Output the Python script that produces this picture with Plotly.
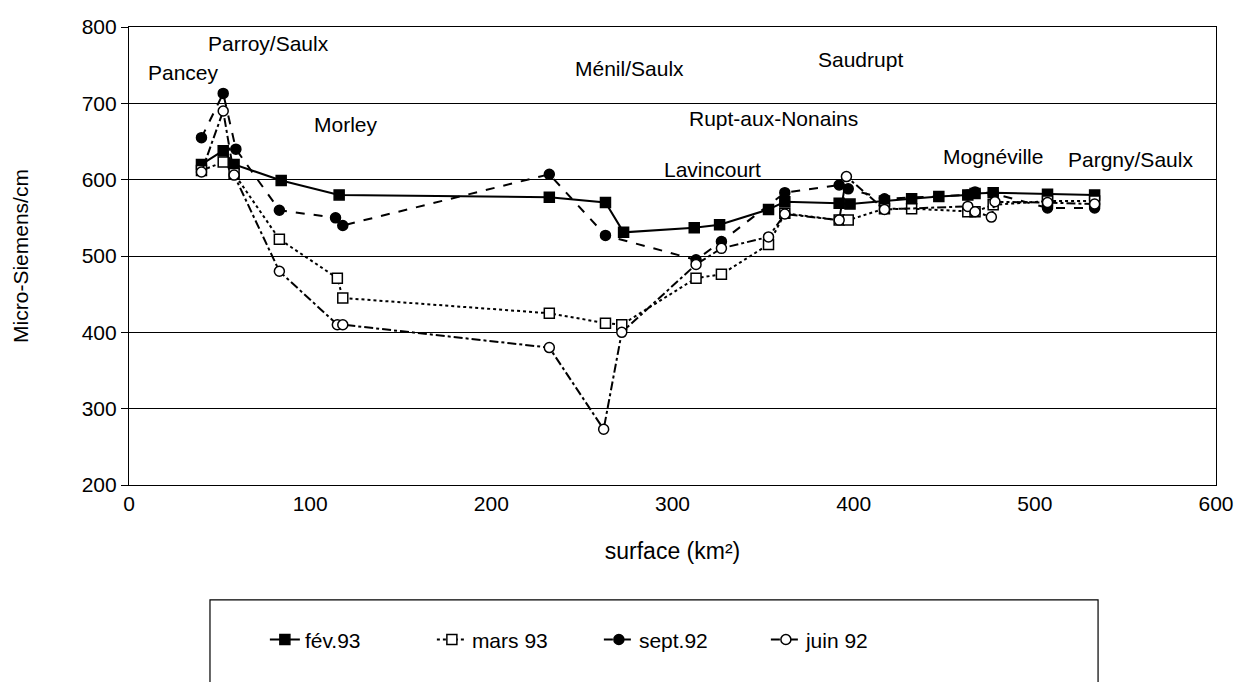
import plotly.graph_objects as go

# ---- data ----
fev93_x = [40, 52, 58, 84, 116, 232, 263, 273, 312, 326, 353, 362, 392, 398, 417, 432, 447, 463, 467, 477, 507, 533]
fev93_y = [620, 638, 620, 599, 580, 577, 570, 531, 537, 541, 561, 571, 569, 568, 572, 575, 578, 580, 582, 583, 581, 580]

mars93_x = [40, 52, 58, 83, 115, 118, 232, 263, 272, 313, 327, 353, 362, 392, 397, 417, 432, 463, 467, 477, 507, 533]
mars93_y = [612, 623, 608, 522, 471, 445, 425, 412, 410, 471, 476, 515, 556, 547, 547, 562, 562, 558, 558, 567, 572, 572]

sept92_x = [40, 52, 59, 83, 114, 118, 232, 263, 313, 327, 362, 392, 397, 417, 463, 467, 477, 507, 533]
sept92_y = [655, 713, 640, 560, 550, 540, 607, 527, 495, 519, 583, 593, 588, 575, 580, 584, 582, 563, 563]

juin92_x = [40, 52, 58, 83, 115, 118, 232, 262, 272, 313, 327, 353, 362, 392, 396, 417, 463, 467, 476, 478, 507, 533]
juin92_y = [610, 690, 606, 480, 410, 410, 380, 273, 400, 489, 510, 525, 555, 547, 604, 561, 565, 558, 551, 571, 570, 568]

station_names = ["Pancey", "Parroy/Saulx", "Morley", "Ménil/Saulx", "Saudrupt",
                 "Rupt-aux-Nonains", "Lavincourt", "Mognéville", "Pargny/Saulx"]
station_label_x = [30, 77, 120, 276, 404, 356, 322, 477, 553]
station_label_y = [741, 779, 672, 745, 757, 680, 613, 630, 627]

x_ticks = [0, 100, 200, 300, 400, 500, 600]
y_ticks = [200, 300, 400, 500, 600, 700, 800]

FONT = "Liberation Sans, Arial, Helvetica, sans-serif"

fig = go.Figure()

def add_series(name, xs, ys, dash, symbol, filled):
    fig.add_trace(go.Scatter(
        x=xs, y=ys, name=name, mode="lines+markers",
        line=dict(color="black", width=2, dash=dash),
        marker=dict(symbol=symbol, size=10,
                    color="black" if filled else "white",
                    line=dict(color="black", width=1.5)),
    ))

add_series("fév.93", fev93_x, fev93_y, "solid", "square", True)
add_series("mars 93", mars93_x, mars93_y, "dot", "square", False)
add_series("sept.92", sept92_x, sept92_y, "dash", "circle", True)
add_series("juin 92", juin92_x, juin92_y, "dashdot", "circle", False)

for name, lx, ly in zip(station_names, station_label_x, station_label_y):
    fig.add_annotation(x=lx, y=ly, text=name, showarrow=False,
                       font=dict(family=FONT, size=21, color="black"))

# legend frame
fig.add_shape(type="rect", xref="paper", yref="paper",
              x0=0.0745, x1=0.8915, y0=-0.44, y1=-0.251,
              line=dict(color="black", width=1.2), fillcolor="rgba(0,0,0,0)")

fig.update_layout(
    width=1237, height=682,
    margin=dict(l=129, r=21, t=27, b=197),
    paper_bgcolor="white", plot_bgcolor="white",
    font=dict(family=FONT, size=21, color="black"),
    showlegend=True,
    legend=dict(orientation="h", x=0.125, xanchor="left", y=-0.338, yanchor="middle",
                font=dict(family=FONT, size=21, color="black"),
                bgcolor="rgba(0,0,0,0)", borderwidth=0,
                entrywidth=122, entrywidthmode="pixels"),
)

fig.update_xaxes(range=[0, 600], tickvals=x_ticks, ticktext=[str(v) for v in x_ticks],
                 showgrid=False, zeroline=False, showline=True, mirror=True,
                 linecolor="black", linewidth=1.2, ticks="", automargin=False,
                 title=dict(text="surface (km²)", font=dict(size=23), standoff=28),
                 tickfont=dict(size=21))
fig.update_yaxes(range=[200, 800], tickvals=y_ticks, ticktext=[str(v) for v in y_ticks],
                 showgrid=True, gridcolor="black", gridwidth=1.2, zeroline=False,
                 showline=True, mirror=True, linecolor="black", linewidth=1.2,
                 ticks="outside", ticklen=7, tickcolor="black", automargin=False,
                 title=dict(text="Micro-Siemens/cm", font=dict(size=21), standoff=47),
                 tickfont=dict(size=21))

fig.write_html("out.html", config={"displayModeBar": False},
               post_script="document.body.style.margin='0';")
